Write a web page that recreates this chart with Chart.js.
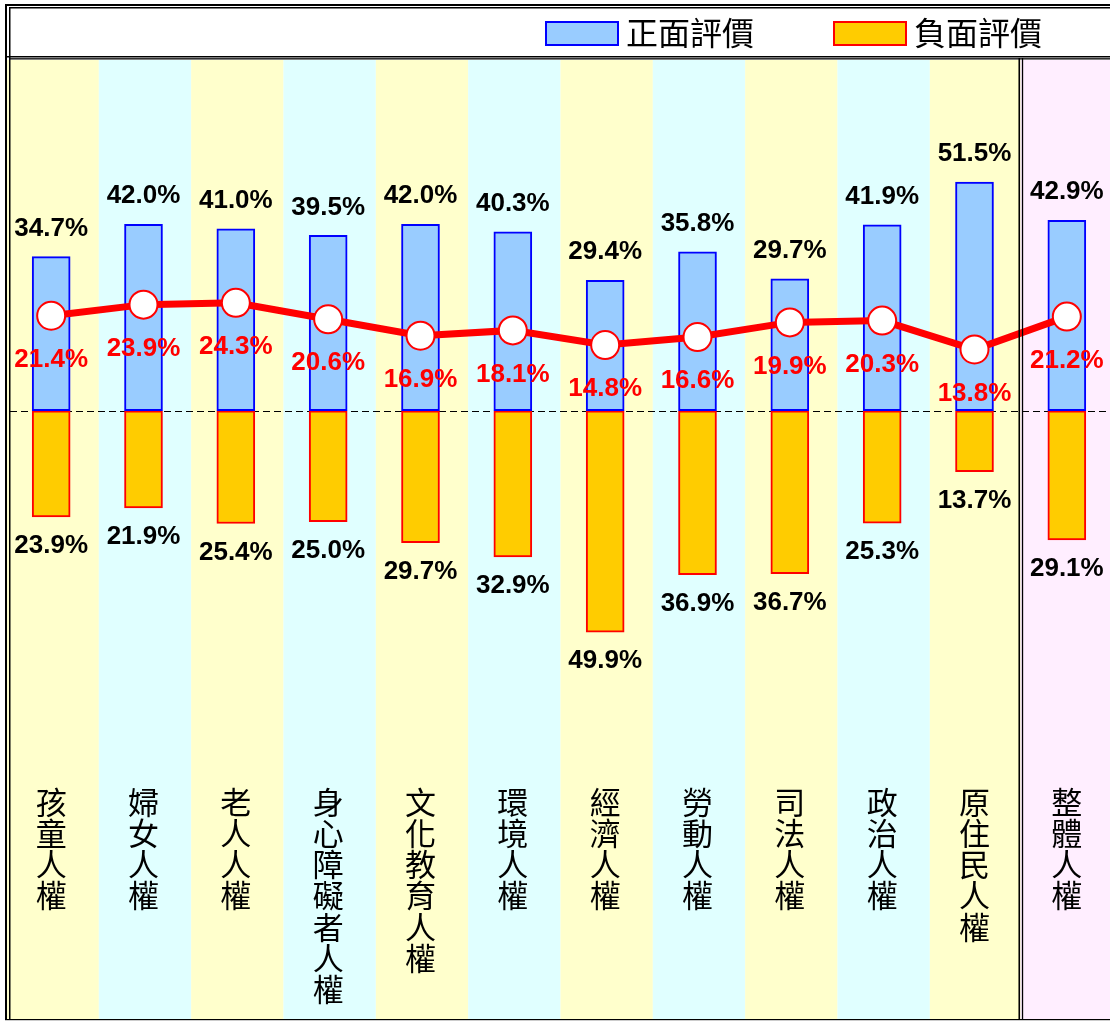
<!DOCTYPE html>
<html>
<head>
<meta charset="utf-8">
<script src="https://cdn.jsdelivr.net/npm/chart.js@4/dist/chart.umd.min.js"></script>
<style>
  html, body { margin: 0; padding: 0; background: #ffffff; overflow: hidden; width: 1110px; height: 1021px; }
  #wrap { width: 1110px; height: 1021px; overflow: hidden; position: relative; }
  canvas { display: block; }
</style>
</head>
<body>
<div id="wrap"><canvas id="c" width="1114" height="1021" style="width:1114px;height:1021px"></canvas></div>
<script>
const categories = ['孩童人權','婦女人權','老人人權','身心障礙者人權','文化教育人權','環境人權','經濟人權','勞動人權','司法人權','政治人權','原住民人權','整體人權'];
const positive = [34.7, 42.0, 41.0, 39.5, 42.0, 40.3, 29.4, 35.8, 29.7, 41.9, 51.5, 42.9];
const negative = [23.9, 21.9, 25.4, 25.0, 29.7, 32.9, 49.9, 36.9, 36.7, 25.3, 13.7, 29.1];
const netScore = [21.4, 23.9, 24.3, 20.6, 16.9, 18.1, 14.8, 16.6, 19.9, 20.3, 13.8, 21.2];
const legendLabels = ['正面評價', '負面評價'];

const NUM_FONT = 'bold 26px "Liberation Sans", Arial, sans-serif';
const CJK_FONT = '"Noto Sans CJK TC", "Noto Sans CJK SC", sans-serif';

const backgroundPlugin = {
  id: 'bgcols',
  beforeDatasetsDraw(chart) {
    const ctx = chart.ctx;
    const xs = chart.scales.x;
    const ys = chart.scales.y;
    const ca = chart.chartArea;
    const n = categories.length;
    ctx.save();
    for (let i = 0; i < n; i++) {
      const cx = xs.getPixelForValue(i);
      const left = i === 0 ? ca.left : (cx + xs.getPixelForValue(i - 1)) / 2 + (i < n - 1 ? 1.5 : 0);
      const right = i === n - 1 ? ca.right : (cx + xs.getPixelForValue(i + 1)) / 2 + (i < n - 2 ? 1.5 : 0);
      let col;
      if (i === n - 1) col = '#FFEEFF';
      else col = (i % 2 === 0) ? '#FFFFCC' : '#E0FFFF';
      ctx.fillStyle = col;
      ctx.fillRect(left, ca.top, right - left, ca.bottom - ca.top);
    }
    const y0 = Math.round(ys.getPixelForValue(0)) + 0.5;
    ctx.strokeStyle = '#000000';
    ctx.lineWidth = 1;
    ctx.setLineDash([7, 4]);
    ctx.beginPath();
    ctx.moveTo(10, y0);
    ctx.lineTo(ca.right, y0);
    ctx.stroke();
    ctx.setLineDash([]);
    ctx.restore();
  }
};

const labelPlugin = {
  id: 'labels',
  afterDatasetsDraw(chart) {
    const ctx = chart.ctx;
    const xs = chart.scales.x;
    ctx.save();
    ctx.textAlign = 'center';
    ctx.textBaseline = 'middle';
    ctx.font = NUM_FONT;
    const posMeta = chart.getDatasetMeta(1);
    posMeta.data.forEach((el, i) => {
      ctx.fillStyle = '#000000';
      ctx.fillText(positive[i].toFixed(1) + '%', el.x, el.y - 28);
    });
    const negMeta = chart.getDatasetMeta(2);
    negMeta.data.forEach((el, i) => {
      ctx.fillStyle = '#000000';
      ctx.fillText(negative[i].toFixed(1) + '%', el.x, el.y + 29);
    });
    const lineMeta = chart.getDatasetMeta(0);
    lineMeta.data.forEach((el, i) => {
      ctx.fillStyle = '#FF0000';
      ctx.fillText(netScore[i].toFixed(1) + '%', el.x, el.y + 44);
    });
    ctx.fillStyle = '#000000';
    ctx.font = '31px ' + CJK_FONT;
    categories.forEach((name, i) => {
      const cx = xs.getPixelForValue(i);
      const chars = Array.from(name);
      chars.forEach((ch, k) => {
        ctx.fillText(ch, cx, 802 + k * 31.2);
      });
    });
    ctx.restore();
  },
  afterDraw(chart) {
    const ctx = chart.ctx;
    const xs = chart.scales.x;
    const W = chart.width;
    ctx.save();
    ctx.fillStyle = '#000000';
    ctx.fillRect(5, 4, W, 2);
    ctx.fillRect(9, 7, W, 1.5);
    ctx.fillRect(5, 56, W, 1.5);
    ctx.fillRect(9, 58.2, W, 1.3);
    ctx.fillRect(5, 4, 2, 1016);
    ctx.fillRect(9, 7, 1.5, 1013);
    ctx.fillRect(5, 1019, W, 1.2);
    const sep = (xs.getPixelForValue(10) + xs.getPixelForValue(11)) / 2;
    ctx.fillRect(sep - 2.2, 58, 1.6, 962);
    ctx.fillRect(sep + 1.2, 58, 1.3, 962);

    ctx.lineWidth = 2;
    ctx.fillStyle = '#99CCFF';
    ctx.fillRect(546, 22, 72, 23);
    ctx.strokeStyle = '#0000FF';
    ctx.strokeRect(546, 22, 72, 23);
    ctx.fillStyle = '#FFCC00';
    ctx.fillRect(834, 22, 72, 23);
    ctx.strokeStyle = '#FF0000';
    ctx.strokeRect(834, 22, 72, 23);
    ctx.fillStyle = '#000000';
    ctx.font = '32px ' + CJK_FONT;
    ctx.textAlign = 'left';
    ctx.textBaseline = 'middle';
    ctx.fillText(legendLabels[0], 626, 33);
    ctx.fillText(legendLabels[1], 914, 33);
    ctx.restore();
  }
};

new Chart(document.getElementById('c'), {
  type: 'bar',
  data: {
    labels: categories,
    datasets: [
      {
        type: 'line',
        label: '差距',
        data: netScore,
        borderColor: '#FF0000',
        borderWidth: 7,
        pointRadius: 14,
        pointHoverRadius: 14,
        pointBackgroundColor: '#FFFFFF',
        pointBorderColor: '#FF0000',
        pointBorderWidth: 2,
        tension: 0,
        fill: false,
        order: 0
      },
      {
        label: legendLabels[0],
        data: positive,
        backgroundColor: '#99CCFF',
        borderColor: '#0000FF',
        borderWidth: 2,
        borderSkipped: false,
        grouped: false,
        barThickness: 38,
        order: 1
      },
      {
        label: legendLabels[1],
        data: negative.map(v => -v),
        backgroundColor: '#FFCC00',
        borderColor: '#FF0000',
        borderWidth: 2,
        borderSkipped: false,
        grouped: false,
        barThickness: 38,
        order: 1
      }
    ]
  },
  options: {
    responsive: false,
    devicePixelRatio: 1,
    animation: false,
    layout: { autoPadding: false, padding: { left: 5, right: 1, top: 60, bottom: 2 } },
    plugins: { legend: { display: false }, tooltip: { enabled: false } },
    scales: {
      x: { display: false, offset: true },
      y: { display: false, min: -137, max: 79 }
    }
  },
  plugins: [backgroundPlugin, labelPlugin]
});
</script>
</body>
</html>
